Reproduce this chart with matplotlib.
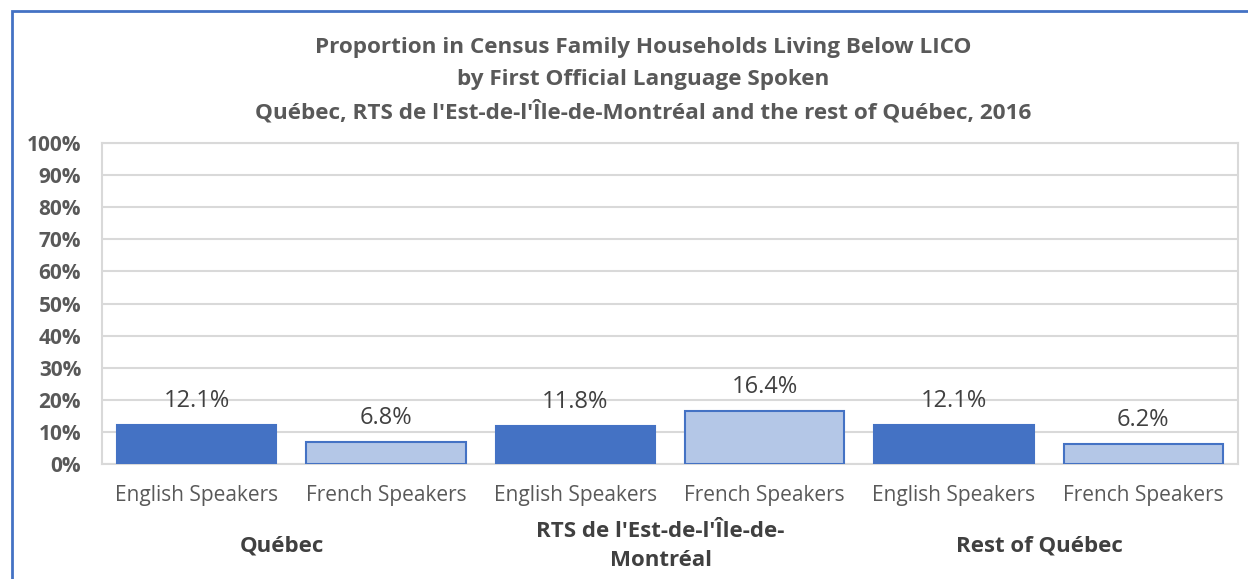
import matplotlib.pyplot as plt
from matplotlib.patches import Rectangle
from matplotlib.ticker import MultipleLocator, PercentFormatter
import matplotlib.transforms as mtransforms

plt.rcParams['font.family'] = ['Open Sans', 'DejaVu Sans']

groups = ["Québec", "RTS de l'Est-de-l'Île-de-\nMontréal", "Rest of Québec"]
speakers = ["English Speakers", "French Speakers"]
values = [12.1, 6.8, 11.8, 16.4, 12.1, 6.2]
title_lines = [
    "Proportion in Census Family Households Living Below LICO",
    "by First Official Language Spoken",
    "Québec, RTS de l'Est-de-l'Île-de-Montréal and the rest of Québec, 2016",
]

W, H = 1248, 579
fig = plt.figure(figsize=(W / 100, H / 100), dpi=100)

# outer chart frame
fig.patches.append(Rectangle((12 / W, -0.05), 1.2, 1 - 11 / H + 0.05,
                             transform=fig.transFigure, fill=False,
                             edgecolor="#4472C4", linewidth=2))

ax = fig.add_axes([102 / W, 1 - 464 / H, (1238 - 102) / W, (464 - 143) / H])

x = list(range(len(values)))
fills = ["#4472C4", "#B4C7E7"] * 3
for xi, v, c in zip(x, values, fills):
    ax.bar(xi, v, width=0.84, color=c, edgecolor="#4472C4", linewidth=1.5, zorder=3)
    ax.annotate(f"{v:.1f}%", (xi, v), xytext=(0, 9), textcoords="offset points",
                ha="center", va="bottom", fontsize=17, color="#404040", zorder=4)

ax.set_xlim(-0.5, len(values) - 0.5)
ax.set_ylim(0, 100)
ax.yaxis.set_major_locator(MultipleLocator(10))
ax.yaxis.set_major_formatter(PercentFormatter(decimals=0))
ax.grid(axis="y", color="#D9D9D9", linewidth=1.5, zorder=0)
for s in ax.spines.values():
    s.set_color("#D9D9D9")
    s.set_linewidth(1.5)
ax.tick_params(axis="y", length=0, pad=15, labelsize=15, labelcolor="#595959")
for lbl in ax.get_yticklabels():
    lbl.set_fontweight("bold")
ax.set_xticks([])

trans = mtransforms.blended_transform_factory(ax.transData, fig.transFigure)
for xi in x:
    ax.text(xi, 1 - 496 / H, speakers[xi % 2], transform=trans, ha="center",
            va="center", fontsize=15, color="#595959")
for gi, g in enumerate(groups):
    ax.text(2 * gi + 0.45, 1 - 546 / H, g, transform=trans, ha="center",
            va="center", fontsize=16, fontweight="bold", color="#404040",
            linespacing=1.55)

for i, t in enumerate(title_lines):
    fig.text(643 / W, 1 - (47 + 32.5 * i) / H, t,
             ha="center", va="center", fontsize=16.2, fontweight="bold",
             color="#595959")

fig.savefig("out.png", dpi=100)
